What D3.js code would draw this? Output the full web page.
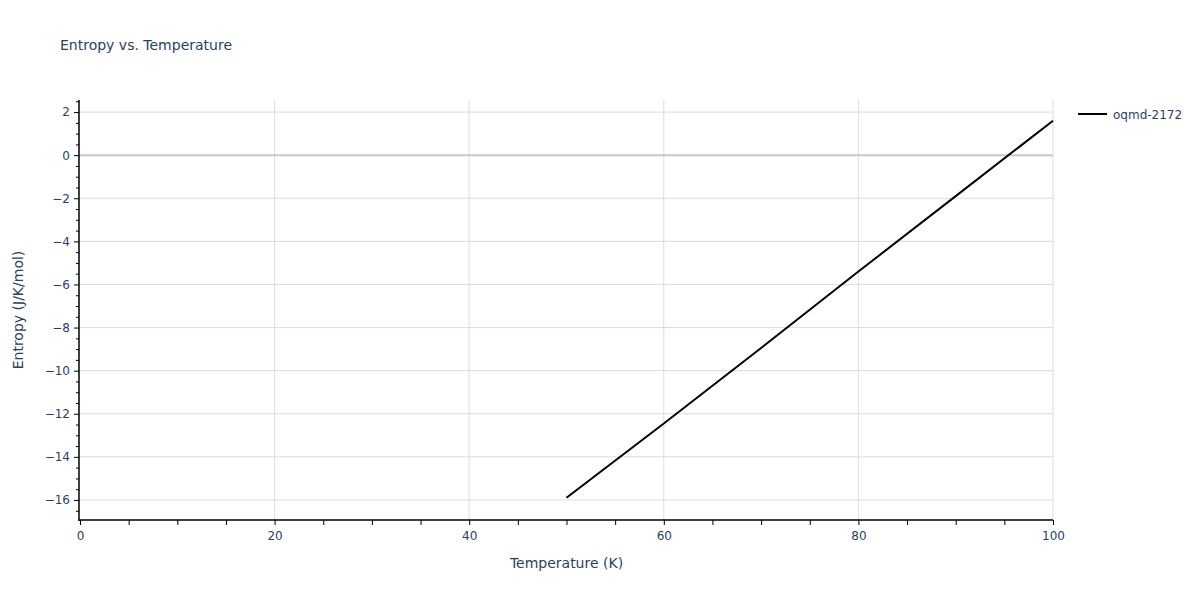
<!DOCTYPE html>
<html><head><meta charset="utf-8">
<script src="https://cdn.jsdelivr.net/npm/d3@7"></script>
<style>body{margin:0;background:#fff}svg{display:block}text{font-family:"DejaVu Sans",Verdana,sans-serif;fill:#2a3f5f}</style>
</head><body><svg id="c" width="1200" height="600"></svg>
<script>
const temperature = [50, 60, 70, 80, 90, 100];
const entropy = [-15.9, -12.45, -8.95, -5.4, -1.9, 1.6];
const seriesName = "oqmd-2172";
const xTicks = [0, 20, 40, 60, 80, 100];
const yTicks = [-16, -14, -12, -10, -8, -6, -4, -2, 0, 2];

const svg = d3.select("#c");
const L = 80, R = 1053, T = 100, B = 520;
const x = d3.scaleLinear().domain([0, 100]).range([L, R]);
const y = d3.scaleLinear().domain([-16.93, 2.56]).range([B, T]);

// grid
svg.append("g").selectAll("line").data(xTicks.filter(d => d > 0)).join("line")
  .attr("x1", d => x(d)).attr("x2", d => x(d)).attr("y1", T).attr("y2", B)
  .attr("stroke", "#dcdcdc").attr("stroke-width", 1);
svg.append("g").selectAll("line").data(yTicks.filter(d => d !== 0)).join("line")
  .attr("x1", L).attr("x2", R).attr("y1", d => y(d)).attr("y2", d => y(d))
  .attr("stroke", "#dcdcdc").attr("stroke-width", 1);
svg.append("line").attr("x1", L).attr("x2", R).attr("y1", y(0)).attr("y2", y(0))
  .attr("stroke", "#c8c8c8").attr("stroke-width", 2);

// axes
const xMinor = d3.range(0, 101, 5).filter(d => d % 20 !== 0);
const yMinor = d3.range(-16.5, 2.6, 0.5).filter(d => Math.abs(d % 2) > 1e-9);
const xa = svg.append("g").attr("transform", `translate(0,${B})`);
xa.append("g").call(d3.axisBottom(x).tickValues(xMinor).tickSize(5).tickFormat(""))
  .call(g => g.select(".domain").remove()).selectAll("line").attr("stroke", "#000");
xa.append("g").call(d3.axisBottom(x).tickValues(xTicks).tickSize(5).tickPadding(6).tickFormat(d3.format("d")))
  .call(g => g.select(".domain").remove())
  .call(g => g.selectAll("line").attr("stroke", "#000"))
  .call(g => g.selectAll("text").attr("font-size", 12).style("fill", "#2a3f5f").attr("font-family", "DejaVu Sans"));
xa.append("line").attr("x1", L - 1).attr("x2", R).attr("stroke", "#000").attr("stroke-width", 1.5);

const fmt = d => (d < 0 ? "\u2212" + Math.abs(d) : String(d));
const ya = svg.append("g").attr("transform", `translate(${L - 1},0)`);
ya.append("g").call(d3.axisLeft(y).tickValues(yMinor).tickSize(3).tickFormat(""))
  .call(g => g.select(".domain").remove()).selectAll("line").attr("stroke", "#000");
ya.append("g").call(d3.axisLeft(y).tickValues(yTicks).tickSize(5).tickPadding(4).tickFormat(fmt))
  .call(g => g.select(".domain").remove())
  .call(g => g.selectAll("line").attr("stroke", "#000"))
  .call(g => g.selectAll("text").attr("font-size", 12).style("fill", "#2a3f5f").attr("font-family", "DejaVu Sans"));
ya.append("line").attr("y1", T).attr("y2", B + 1).attr("stroke", "#000").attr("stroke-width", 1.5);

// line
svg.append("path").datum(temperature.map((t, i) => [t, entropy[i]]))
  .attr("fill", "none").attr("stroke", "#000").attr("stroke-width", 2)
  .attr("d", d3.line().x(d => x(d[0])).y(d => y(d[1])));

// titles
svg.append("text").attr("x", 60).attr("y", 50).attr("font-size", 14).text("Entropy vs. Temperature");
svg.append("text").attr("x", (L + R) / 2).attr("y", 568).attr("text-anchor", "middle").attr("font-size", 14).text("Temperature (K)");
svg.append("text").attr("transform", `translate(23,${(T + B) / 2}) rotate(-90)`).attr("text-anchor", "middle").attr("font-size", 14).text("Entropy (J/K/mol)");

// legend
svg.append("line").attr("x1", 1078).attr("x2", 1107).attr("y1", 114).attr("y2", 114).attr("stroke", "#000").attr("stroke-width", 2);
svg.append("text").attr("x", 1113).attr("y", 118.5).attr("font-size", 12).text(seriesName);
</script></body></html>
